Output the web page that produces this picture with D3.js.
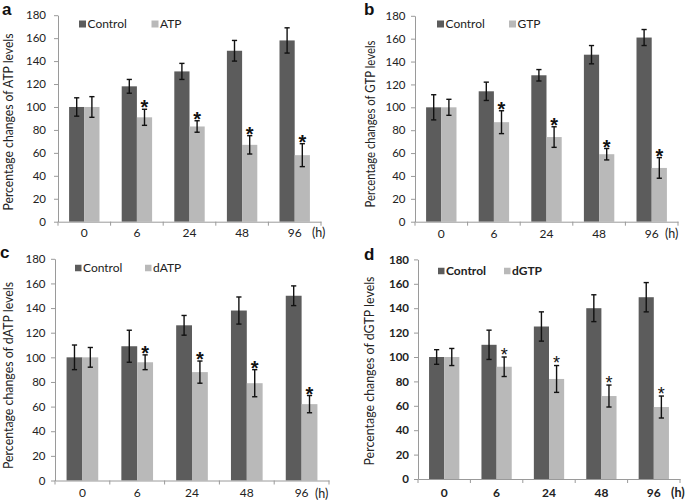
<!DOCTYPE html>
<html>
<head>
<meta charset="utf-8">
<script src="https://cdn.jsdelivr.net/npm/d3@7"></script>
<style>
  body { margin: 0; background: #fff; }
  svg { display: block; }
  .axis path, .axis line { stroke: #9a9a9a; }
  .axis text { fill: #222; font-family: Lato, "Open Sans", sans-serif; }
</style>
</head>
<body>
<div id="chart"></div>
<script>
// time points (h)
var hours = ["0", "6", "24", "48", "96"];
var yTicks = [0, 20, 40, 60, 80, 100, 120, 140, 160, 180];
var marked = [false, true, true, true, true];

// panel a
var ctrlATP = [100, 118, 131, 149, 158];
var ctrlATPErr = [8, 6, 7, 9, 11];
var atp = [100, 91, 83, 67, 58];
var atpErr = [9, 7, 5, 8, 10];

// panel b
var ctrlGTP = [100, 114, 128, 146, 161];
var ctrlGTPErr = [11, 8, 5, 8, 7];
var gtp = [100, 87, 74, 59, 47];
var gtpErr = [7, 10, 9, 5, 9];

// panel c
var ctrlDATP = [100, 109, 126, 138, 150];
var ctrlDATPErr = [10, 13, 8, 11, 8];
var datp = [100, 96, 88, 79, 62];
var datpErr = [8, 6, 9, 11, 7];

// panel d
var ctrlDGTP = [100, 110, 125, 140, 149];
var ctrlDGTPErr = [6, 12, 12, 11, 12];
var dgtp = [100, 92, 82, 68, 59];
var dgtpErr = [7, 8, 11, 9, 9];

var width = 685, height = 502;
var ctrlColor = "#5c5c5c", treatColor = "#b9b9b9";

var panels = [
  { letter: "a", name: "ATP", ctrl: ctrlATP, ctrlErr: ctrlATPErr, vals: atp, err: atpErr,
    left: 58, right: 321, top: 15.2, bottom: 221.7, yPad: 8, xPad: 6.5,
    title: { x: 8, y: 122, len: 177 }, letterPos: [2, 14.5],
    legend: { y: 24, x1: 79, x2: 151.5, size: 7 }, hx: 312, hy: 232.5, bold: false },
  { letter: "b", name: "GTP", ctrl: ctrlGTP, ctrlErr: ctrlGTPErr, vals: gtp, err: gtpErr,
    left: 415, right: 678, top: 15.8, bottom: 221.7, yPad: 5.5, xPad: 7.5,
    title: { x: 370, y: 124, len: 167 }, letterPos: [364, 15],
    legend: { y: 24, x1: 437, x2: 509, size: 7 }, hx: 665, hy: 233.5, bold: false },
  { letter: "c", name: "dATP", ctrl: ctrlDATP, ctrlErr: ctrlDATPErr, vals: datp, err: datpErr,
    left: 55, right: 329, top: 258.8, bottom: 480.5, yPad: 5.5, xPad: 8,
    title: { x: 8, y: 375.5, len: 187 }, letterPos: [0, 258.4],
    legend: { y: 268, x1: 75, x2: 145, size: 6.5 }, hx: 315, hy: 493.5, bold: false },
  { letter: "d", name: "dGTP", ctrl: ctrlDGTP, ctrlErr: ctrlDGTPErr, vals: dgtp, err: dgtpErr,
    left: 418, right: 680, top: 259.4, bottom: 479, yPad: 5, xPad: 9,
    title: { x: 369, y: 371, len: 189 }, letterPos: [364, 260],
    legend: { y: 271, x1: 438, x2: 504, size: 6.5 }, hx: 671, hy: 492.5, bold: true }
];

var svg = d3.select("#chart").append("svg")
  .attr("width", width)
  .attr("height", height);

panels.forEach(function(p) {
  var g = svg.append("g");

  var x = d3.scaleBand()
    .domain(hours)
    .range([p.left, p.right]);

  var bw = x.bandwidth();
  var x1 = d3.scaleBand()
    .domain(["ctrl", "treat"])
    .range([bw * 0.211, bw * 0.789]);

  var y = d3.scaleLinear()
    .domain([0, 180])
    .range([p.bottom, p.top]);

  var rows = hours.map(function(h, i) {
    return { h: h, i: i, c: p.ctrl[i], ce: p.ctrlErr[i], t: p.vals[i], te: p.err[i] };
  });

  // bars
  g.selectAll(".cbar").data(rows).enter().append("rect")
    .attr("x", function(d) { return x(d.h) + x1("ctrl"); })
    .attr("y", function(d) { return y(d.c); })
    .attr("width", x1.bandwidth())
    .attr("height", function(d) { return y(0) - y(d.c); })
    .attr("fill", ctrlColor);

  g.selectAll(".tbar").data(rows).enter().append("rect")
    .attr("x", function(d) { return x(d.h) + x1("treat"); })
    .attr("y", function(d) { return y(d.t); })
    .attr("width", x1.bandwidth())
    .attr("height", function(d) { return y(0) - y(d.t); })
    .attr("fill", treatColor);

  // error bars
  function errBar(key, mean, err) {
    var eg = g.selectAll(".err-" + key).data(rows).enter().append("g")
      .attr("transform", function(d) {
        return "translate(" + (x(d.h) + x1(key) + x1.bandwidth() / 2) + ",0)";
      })
      .attr("stroke", "#111")
      .attr("stroke-width", 1.4);
    eg.append("line")
      .attr("y1", function(d) { return y(d[mean] - d[err]); })
      .attr("y2", function(d) { return y(d[mean] + d[err]); });
    eg.append("line")
      .attr("x1", -2.6).attr("x2", 2.6)
      .attr("y1", function(d) { return y(d[mean] + d[err]); })
      .attr("y2", function(d) { return y(d[mean] + d[err]); });
    eg.append("line")
      .attr("x1", -2.6).attr("x2", 2.6)
      .attr("y1", function(d) { return y(d[mean] - d[err]); })
      .attr("y2", function(d) { return y(d[mean] - d[err]); });
  }
  errBar("ctrl", "c", "ce");
  errBar("treat", "t", "te");

  // significance marks
  g.selectAll(".star").data(rows.filter(function(d) { return marked[d.i]; })).enter()
    .append("text")
    .attr("x", function(d) { return x(d.h) + x1("treat") + x1.bandwidth() / 2; })
    .attr("y", function(d) { return y(d.t + d.te) + (p.bold ? 3.5 : 5.2); })
    .attr("text-anchor", "middle")
    .attr("font-family", "Liberation Sans, Arial, sans-serif")
    .attr("font-weight", p.bold ? "normal" : "bold")
    .attr("font-size", p.bold ? 18 : 20)
    .attr("fill", "#111")
    .text("*");

  // axes
  var yAxis = d3.axisLeft(y)
    .tickValues(yTicks)
    .tickSize(4)
    .tickSizeOuter(0)
    .tickPadding(p.yPad);

  var ya = g.append("g")
    .attr("class", "axis")
    .attr("transform", "translate(" + p.left + ",0)")
    .call(yAxis);
  ya.selectAll("text")
    .attr("font-size", 11.5)
    .attr("font-weight", p.bold ? "bold" : "normal");

  var xAxis = d3.axisBottom(x)
    .tickSize(0)
    .tickSizeOuter(0)
    .tickPadding(p.xPad);

  var xa = g.append("g")
    .attr("class", "axis")
    .attr("transform", "translate(0," + p.bottom + ")")
    .call(xAxis);
  xa.selectAll("text")
    .attr("font-size", 12)
    .attr("font-weight", p.bold ? "bold" : "normal");

  // category boundary ticks
  var bounds = hours.map(function(h) { return x(h); }).concat([p.right]);
  xa.selectAll(".btick").data(bounds).enter().append("line")
    .attr("x1", function(d) { return d; })
    .attr("x2", function(d) { return d; })
    .attr("y1", 0)
    .attr("y2", 4)
    .attr("stroke", "#9a9a9a");

  g.append("text")
    .attr("x", p.hx)
    .attr("y", p.hy)
    .attr("dy", "0.35em")
    .attr("font-family", "Lato, 'Open Sans', sans-serif")
    .attr("font-size", 12.5)
    .attr("font-weight", p.bold ? "bold" : "normal")
    .attr("fill", "#222")
    .text("(h)");

  // y title, squeezed to the reference length
  g.append("text")
    .attr("transform", "translate(" + p.title.x + "," + p.title.y + ") rotate(-90)")
    .attr("text-anchor", "middle")
    .attr("dy", "0.35em")
    .attr("font-family", "Lato, 'Open Sans', sans-serif")
    .attr("font-size", 13.5)
    .attr("textLength", p.title.len)
    .attr("lengthAdjust", "spacingAndGlyphs")
    .attr("fill", "#222")
    .text("Percentage changes of " + p.name + " levels");

  // panel letter
  g.append("text")
    .attr("x", p.letterPos[0])
    .attr("y", p.letterPos[1])
    .attr("font-family", "Liberation Sans, Arial, sans-serif")
    .attr("font-weight", "bold")
    .attr("font-size", 17)
    .attr("fill", "#111")
    .text(p.letter);

  // legend
  var lg = g.append("g")
    .attr("font-family", "Lato, 'Open Sans', sans-serif")
    .attr("font-size", 12)
    .attr("font-weight", p.bold ? "bold" : "normal")
    .attr("fill", "#222");
  [[p.legend.x1, ctrlColor, "Control"], [p.legend.x2, treatColor, p.name]].forEach(function(e) {
    lg.append("rect")
      .attr("x", e[0])
      .attr("y", p.legend.y - p.legend.size / 2)
      .attr("width", p.legend.size)
      .attr("height", p.legend.size)
      .attr("fill", e[1]);
    lg.append("text")
      .attr("x", e[0] + p.legend.size + 1.5)
      .attr("y", p.legend.y)
      .attr("dy", "0.35em")
      .text(e[2]);
  });
});
</script>
</body>
</html>
